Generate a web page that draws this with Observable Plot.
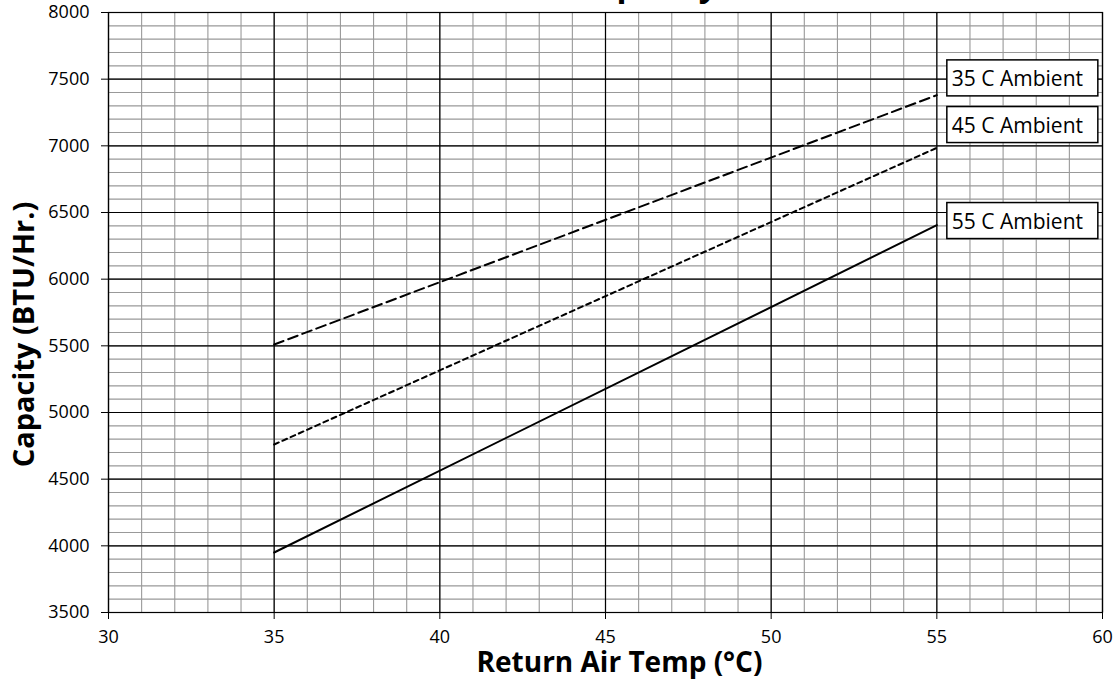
<!DOCTYPE html>
<html>
<head>
<meta charset="utf-8">
<script src="https://cdn.jsdelivr.net/npm/d3@7"></script>
<script src="https://cdn.jsdelivr.net/npm/@observablehq/plot@0.6"></script>
<style>
  html, body { margin: 0; padding: 0; background: white; }
  #chart svg { display: block; overflow: hidden; }
</style>
</head>
<body>
<div id="chart"></div>
<script>
// ---- data ----
const chartTitle = "Capacity";
const xTitle = "Return Air Temp (°C)";
const yTitle = "Capacity (BTU/Hr.)";

const ambientSeries = ["35 C Ambient", "45 C Ambient", "55 C Ambient"];
const returnAirTemp = [35, 55];
const capacity35 = [5510, 7380];
const capacity45 = [4760, 6985];
const capacity55 = [3950, 6405];
const labelCapacity = [7500, 7150, 6430];

const xTicks = [30, 35, 40, 45, 50, 55, 60];
const yTicks = [3500, 4000, 4500, 5000, 5500, 6000, 6500, 7000, 7500, 8000];
const xMinorTicks = d3.range(30, 61, 1);
const yMinorTicks = d3.range(3500, 8001, 100);

// ---- build tables ----
const seriesValues = [capacity35, capacity45, capacity55];
const lineData = ambientSeries.map((s, k) =>
  returnAirTemp.map((t, i) => ({series: s, temp: t, capacity: seriesValues[k][i]}))
);
const labelData = ambientSeries.map((s, k) => ({series: s, temp: returnAirTemp[returnAirTemp.length - 1], capacity: labelCapacity[k]}));
const dashes = ["10,5", "5,4", null];

const FONT = "'Open Sans', 'Noto Sans', sans-serif";

const plot = Plot.plot({
  width: 1118,
  height: 683,
  marginLeft: 108,
  marginRight: 16,
  marginTop: 12,
  marginBottom: 71,
  style: {fontFamily: FONT, fontSize: "18px", background: "white", color: "black"},
  x: {domain: [30, 60]},
  y: {domain: [3500, 8000]},
  marks: [
    Plot.ruleX(xMinorTicks, {stroke: "#999", strokeWidth: 1.1}),
    Plot.ruleY(yMinorTicks, {stroke: "#999", strokeWidth: 1.1}),
    Plot.ruleX(xTicks, {stroke: "black", strokeWidth: 1.2}),
    Plot.ruleY(yTicks, {stroke: "black", strokeWidth: 1.2}),
    Plot.frame({stroke: "black", strokeWidth: 1.2}),
    Plot.axisX(xTicks, {tickSize: 7, tickPadding: 11, fontSize: 18, label: null, tickFormat: d => String(d), stroke: "black", fill: "black"}),
    Plot.axisY(yTicks, {tickSize: 7, tickPadding: 12, fontSize: 18, label: null, tickFormat: d => String(d), stroke: "black", fill: "black"}),
    ...lineData.map((d, k) => Plot.line(d, {
      x: "temp", y: "capacity", stroke: "black", strokeWidth: 2,
      strokeDasharray: dashes[k] || undefined
    })),
    Plot.text(labelData, {
      x: "temp", y: "capacity", text: "series", dx: 15, textAnchor: "start",
      fontSize: 21, fill: "black", className: "amb-labels"
    }),
    Plot.text([xTitle], {
      frameAnchor: "bottom", dx: 14, dy: 59, textAnchor: "middle", fontSize: 28, fontWeight: "bold", fill: "black"
    }),
    Plot.text([yTitle], {
      frameAnchor: "left", dx: -84, dy: 22, rotate: -90, textAnchor: "middle", fontSize: 29, fontWeight: "bold", fill: "black"
    }),
    Plot.text([chartTitle], {
      frameAnchor: "top", dx: -30, dy: -40, textAnchor: "start", fontSize: 33, fontWeight: "bold", fill: "black"
    })
  ]
});

document.getElementById("chart").appendChild(plot);

// draw the white bordered boxes behind the series labels
const ns = "http://www.w3.org/2000/svg";
plot.querySelectorAll("g.amb-labels text").forEach(t => {
  const b = t.getBBox();
  const r = document.createElementNS(ns, "rect");
  const cy = b.y + b.height / 2;
  r.setAttribute("x", b.x - 5);
  r.setAttribute("y", cy - 18);
  r.setAttribute("width", 151);
  r.setAttribute("height", 36);
  r.setAttribute("fill", "white");
  r.setAttribute("stroke", "black");
  r.setAttribute("stroke-width", 1.5);
  const tr = t.getAttribute("transform");
  if (tr) r.setAttribute("transform", tr);
  t.parentNode.insertBefore(r, t);
});
</script>
</body>
</html>
